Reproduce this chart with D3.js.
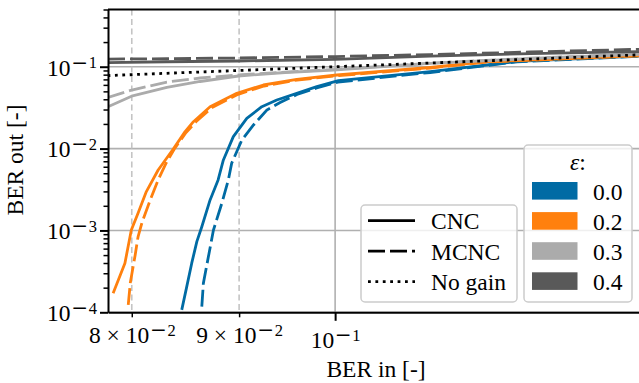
<!DOCTYPE html>
<html><head><meta charset="utf-8">
<script src="https://cdn.jsdelivr.net/npm/d3@7"></script>
<style>
body{margin:0;background:#fff}
</style></head><body>
<svg id="chart" width="639" height="383" font-family="Liberation Serif, Times New Roman, serif"></svg>
<script>
// BER out versus BER in, per erasure share epsilon, for CNC and MCNC decoding
const epsilons = ["0.0", "0.2", "0.3", "0.4"];
const epsColors = ["#006BA4", "#FF800E", "#ABABAB", "#595959"];

// [BER in, BER out]
const cnc00 = [[0.08451,1.07e-4],[0.08491,1.88e-4],[0.08544,3.98e-4],[0.08592,7.30e-4],[0.08639,1.11e-3],[0.08718,2.36e-3],[0.08795,4.14e-3],[0.08846,7.26e-3],[0.08943,1.40e-2],[0.09076,2.34e-2],[0.09227,3.25e-2],[0.0938,3.92e-2],[0.09588,4.73e-2],[0.09801,5.70e-2],[0.10036,6.75e-2],[0.1110,0.0869],[0.1221,0.116],[0.1405,0.136]];
const mcnc00 = [[0.08639,1.17e-4],[0.08654,2.27e-4],[0.08702,4.79e-4],[0.0875,1.01e-3],[0.08831,2.15e-3],[0.08894,4.14e-3],[0.08927,6.62e-3],[0.09027,1.27e-2],[0.09143,1.94e-2],[0.09278,2.96e-2],[0.09414,3.65e-2],[0.0959,4.58e-2],[0.0980,5.50e-2],[0.1003,6.5e-2],[0.1110,0.0850],[0.1221,0.115],[0.1405,0.135]];
const cnc02 = [[0.07838,1.71e-4],[0.0794,3.98e-4],[0.07996,1.01e-3],[0.08055,1.62e-3],[0.08129,2.98e-3],[0.08235,5.48e-3],[0.08371,9.8e-3],[0.08482,1.61e-2],[0.0856,2.13e-2],[0.08718,3.25e-2],[0.08977,4.73e-2],[0.09243,5.98e-2],[0.09588,7.02e-2],[0.10019,7.92e-2],[0.1110,0.0978],[0.1181,0.1151],[0.1405,0.138]];
const mcnc02 = [[0.07969,1.23e-4],[0.07987,2.29e-4],[0.0803,5.02e-4],[0.08055,8.33e-4],[0.08092,1.27e-3],[0.08164,2.36e-3],[0.08235,4.14e-3],[0.08308,6.67e-3],[0.08389,1.02e-2],[0.08491,1.57e-2],[0.08586,2.14e-2],[0.08737,3.18e-2],[0.0899,4.6e-2],[0.0925,5.81e-2],[0.0959,6.88e-2],[0.1002,7.74e-2],[0.1110,0.0964],[0.1181,0.1141],[0.1405,0.137]];
const cnc03 = [[0.07794,3.25e-2],[0.07998,4.36e-2],[0.08314,5.6e-2],[0.08623,6.6e-2],[0.08993,7.7e-2],[0.09466,8.5e-2],[0.0998,9.11e-2],[0.1110,0.110],[0.1239,0.126],[0.1405,0.143]];
const mcnc03 = [[0.07794,4.21e-2],[0.08,5.19e-2],[0.08314,6.5e-2],[0.08623,7.28e-2],[0.0899,7.92e-2],[0.09466,8.6e-2],[0.0998,9.24e-2],[0.1110,0.1105],[0.1239,0.127],[0.1405,0.144]];
const cnc04 = [[0.07794,0.112],[0.08314,0.115],[0.0899,0.1174],[0.1,0.123],[0.111,0.135],[0.1239,0.1449],[0.1405,0.1533]];
const mcnc04 = [[0.07794,0.124],[0.08314,0.1252],[0.0899,0.1277],[0.1,0.1332],[0.111,0.1409],[0.1239,0.1512],[0.1405,0.164]];
const noGain = [[0.0779,0.0779],[0.09,0.09],[0.1,0.1],[0.12,0.12],[0.1405,0.1405]];

const cncSeries = [cnc00, cnc02, cnc03, cnc04];
const mcncSeries = [mcnc00, mcnc02, mcnc03, mcnc04];

const xMajor = [0.1], xMinor = [0.08, 0.09];
const xTickMant = {0.08: "8 × 10", 0.09: "9 × 10", 0.1: "10"};
const xTickExp = {0.08: "2", 0.09: "2", 0.1: "1"};
const yMajor = [1e-4, 1e-3, 1e-2, 1e-1];
const yTickExp = ["4", "3", "2", "1"];
const styleNames = ["CNC", "MCNC", "No gain"];

const FS = 23.5;
const svg = d3.select("#chart");
const L = 108, T = 9.5, B = 312.3, R = 645;
const x = d3.scaleLog().domain([0.07794, 0.1405]).range([L, R]);
const y = d3.scaleLog().domain([1e-4, 0.5]).range([B, T]);

const yMinor = [];
for (let e = -4; e <= -1; e++) for (let k = 2; k <= 9; k++) { const v = k * Math.pow(10, e); if (v <= 0.5) yMinor.push(v); }

// grid
const grid = svg.append("g");
grid.selectAll("line.hy").data(yMajor).join("line")
  .attr("x1", L).attr("x2", R).attr("y1", d => y(d)).attr("y2", d => y(d))
  .attr("stroke", "#b0b0b0").attr("stroke-width", 1.6);
grid.selectAll("line.vx").data(xMajor).join("line")
  .attr("x1", d => x(d)).attr("x2", d => x(d)).attr("y1", T).attr("y2", B)
  .attr("stroke", "#b0b0b0").attr("stroke-width", 1.6);
grid.selectAll("line.vm").data(xMinor).join("line")
  .attr("x1", d => x(d)).attr("x2", d => x(d)).attr("y1", T).attr("y2", B)
  .attr("stroke", "#c4c4c4").attr("stroke-width", 1.6).attr("stroke-dasharray", "6,3.5");

// curves
svg.append("defs").append("clipPath").attr("id", "plotclip")
  .append("rect").attr("x", L).attr("y", T).attr("width", R - L).attr("height", B - T);
const plot = svg.append("g").attr("clip-path", "url(#plotclip)");
const line = d3.line().x(d => x(d[0])).y(d => y(d[1]));
const DASH = "17,5", DOT = "2.8,4.6";
epsilons.forEach((e, i) => {
  plot.append("path").datum(cncSeries[i]).attr("d", line)
    .attr("fill", "none").attr("stroke", epsColors[i]).attr("stroke-width", 2.8)
    .attr("stroke-linejoin", "round");
  plot.append("path").datum(mcncSeries[i]).attr("d", line)
    .attr("fill", "none").attr("stroke", epsColors[i]).attr("stroke-width", 2.8)
    .attr("stroke-dasharray", DASH);
});
plot.append("path").datum(noGain).attr("d", line)
  .attr("fill", "none").attr("stroke", "#000").attr("stroke-width", 2.8)
  .attr("stroke-dasharray", DOT);

// axes
const yAxis = svg.append("g").attr("transform", `translate(${L},0)`)
  .call(d3.axisLeft(y).tickValues(yMajor).tickSize(8).tickSizeOuter(0).tickFormat(""));
const yAxisMinor = svg.append("g").attr("transform", `translate(${L},0)`)
  .call(d3.axisLeft(y).tickValues(yMinor).tickSize(4.5).tickSizeOuter(0).tickFormat(""));
const xAxis = svg.append("g").attr("transform", `translate(0,${B})`)
  .call(d3.axisBottom(x).tickValues(xMajor).tickSize(8.5).tickSizeOuter(0).tickFormat(""));
const xAxisMinor = svg.append("g").attr("transform", `translate(0,${B})`)
  .call(d3.axisBottom(x).tickValues(xMinor).tickSize(5).tickSizeOuter(0).tickFormat(""));
[yAxis, yAxisMinor, xAxis, xAxisMinor].forEach(a => a.attr("font-family", null).attr("font-size", null));
[yAxis, xAxis].forEach(a => { a.select(".domain").attr("stroke-width", 2); a.selectAll(".tick line").attr("stroke-width", 2); });
[yAxisMinor, xAxisMinor].forEach(a => { a.select(".domain").remove(); a.selectAll(".tick line").attr("stroke-width", 1.5); });
svg.append("line").attr("x1", L).attr("x2", R).attr("y1", T).attr("y2", T)
  .attr("stroke", "#000").attr("stroke-width", 2);

// power-of-ten label: mantissa, then a raised minus and exponent digit
function powerLabel(t, mant, exp) {
  t.attr("font-size", FS).attr("fill", "#000");
  t.append("tspan").text(mant);
  t.append("tspan").attr("dx", 1.5).attr("dy", -4).attr("font-size", 27).text("−");
  t.append("tspan").attr("dx", 1.5).attr("dy", -3.2).attr("font-size", 16.5).text(exp);
}
yAxis.selectAll(".tick").each(function(d) {
  const t = d3.select(this).append("text").attr("x", -11).attr("y", 8.3).attr("text-anchor", "end");
  powerLabel(t, "10", yTickExp[yMajor.indexOf(d)]);
});
function xLabel(sel, base) {
  sel.selectAll(".tick").each(function(d) {
    const t = d3.select(this).append("text").attr("x", 0).attr("y", base).attr("text-anchor", "middle");
    powerLabel(t, xTickMant[d], xTickExp[d]);
  });
}
xLabel(xAxisMinor, 31);
xLabel(xAxis, 36);

svg.append("text").attr("x", 376).attr("y", 377).attr("text-anchor", "middle")
  .attr("font-size", FS).text("BER in [-]");
svg.append("text").attr("transform", "translate(23,160) rotate(-90)")
  .attr("text-anchor", "middle").attr("font-size", FS).text("BER out [-]");

// line-style legend
const lg1 = svg.append("g");
lg1.append("rect").attr("x", 361).attr("y", 205).attr("width", 156).attr("height", 97)
  .attr("rx", 4).attr("fill", "#fff").attr("fill-opacity", 0.8)
  .attr("stroke", "#cccccc").attr("stroke-width", 1.5);
const dashes = [null, DASH, DOT];
styleNames.forEach((n, i) => {
  const cy = 220.7 + i * 30.5;
  lg1.append("line").attr("x1", 368).attr("x2", 415).attr("y1", cy).attr("y2", cy)
    .attr("stroke", "#000").attr("stroke-width", 2.8)
    .attr("stroke-dasharray", dashes[i]);
  lg1.append("text").attr("x", 431).attr("y", cy + 8.3).attr("font-size", FS).text(n);
});

// epsilon legend
const lg2 = svg.append("g");
lg2.append("rect").attr("x", 524).attr("y", 145).attr("width", 108).attr("height", 157)
  .attr("rx", 4).attr("fill", "#fff").attr("fill-opacity", 0.8)
  .attr("stroke", "#cccccc").attr("stroke-width", 1.5);
lg2.append("text").attr("x", 578).attr("y", 169.5).attr("text-anchor", "middle")
  .attr("font-size", FS).call(t => {
    t.append("tspan").attr("font-style", "italic").text("ε");
    t.append("tspan").text(":");
  });
epsilons.forEach((e, i) => {
  const cy = 191 + i * 30.1;
  lg2.append("rect").attr("x", 532).attr("y", cy - 9).attr("width", 45.5).attr("height", 17.6)
    .attr("fill", epsColors[i]);
  lg2.append("text").attr("x", 593).attr("y", cy + 8.5).attr("font-size", FS).text(e);
});
</script>
</body></html>
